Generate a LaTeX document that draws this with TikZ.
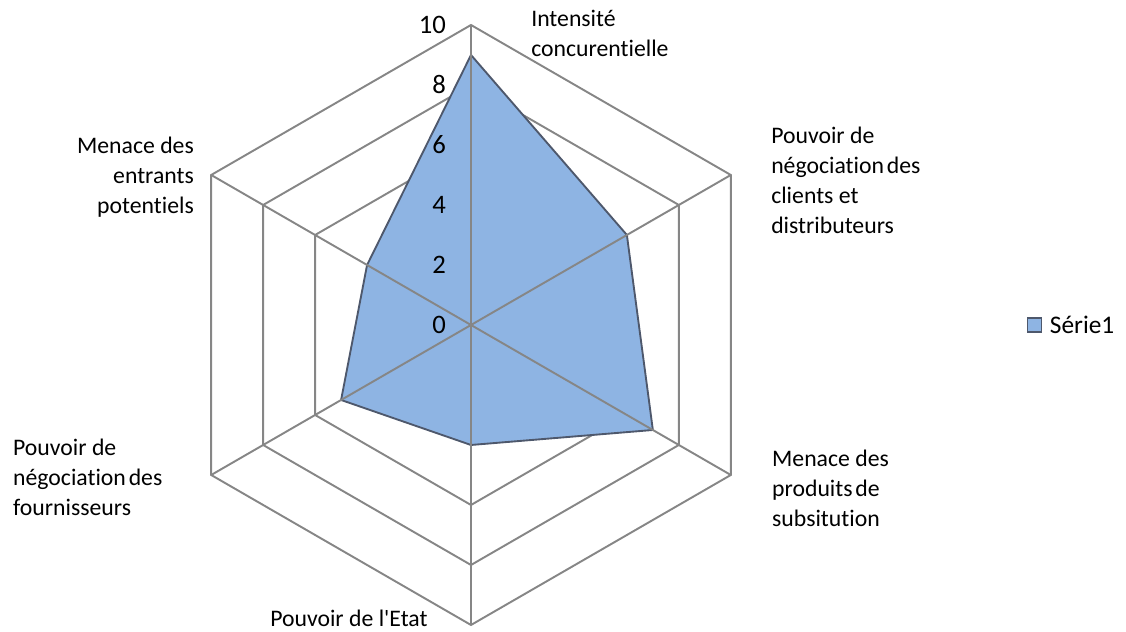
\documentclass[tikz,border=0pt]{standalone}
\usepackage{fontspec}
\setmainfont{Carlito}[Ligatures={NoCommon,TeXOff}]
\usepackage{tikz}
\usetikzlibrary{positioning}
\definecolor{serieblue}{RGB}{142, 180, 227}
\definecolor{serieedge}{RGB}{78, 88, 108}
\definecolor{gridgray}{RGB}{134, 134, 134}

\begin{document}
\begin{tikzpicture}[x=22.5pt, y=22.5pt,
  gridline/.style={draw=gridgray, line width=1.45pt},
  serie/.style={fill=serieblue, draw=serieedge, line width=1.4pt, line join=miter},
  tick/.style={font=\fontsize{20pt}{24pt}\selectfont, anchor=east, inner sep=0pt},
  lbl/.style={font=\fontsize{17.8pt}{22.5pt}\selectfont, inner sep=0pt},
  legkey/.style={rectangle, fill=serieblue, draw=serieedge, line width=0.9pt,
    minimum size=10.5pt, inner sep=0pt}
]
\useasboundingbox (-15.7,-10.233) rectangle (21.833,10.833);
% rings behind the series
\draw[gridline] (90:2)  -- (30:2)  -- (-30:2)  -- (-90:2)  -- (210:2)  -- (150:2)  -- cycle;
\draw[gridline] (90:4)  -- (30:4)  -- (-30:4)  -- (-90:4)  -- (210:4)  -- (150:4)  -- cycle;
\draw[gridline] (90:6)  -- (30:6)  -- (-30:6)  -- (-90:6)  -- (210:6)  -- (150:6)  -- cycle;
\draw[gridline] (90:8)  -- (30:8)  -- (-30:8)  -- (-90:8)  -- (210:8)  -- (150:8)  -- cycle;
\draw[gridline] (90:10) -- (30:10) -- (-30:10) -- (-90:10) -- (210:10) -- (150:10) -- cycle;
% Serie1
\draw[serie] (90:9) -- (30:6) -- (-30:7) -- (-90:4) -- (210:5) -- (150:4) -- cycle;
% spokes over the series
\draw[gridline] (90:10) -- (-90:10) (30:10) -- (210:10) (150:10) -- (-30:10);
% value axis
\node[tick] at (-0.83, 0)  (t0)  {0};
\node[tick] at (-0.83, 2)  (t2)  {2};
\node[tick] at (-0.83, 4)  (t4)  {4};
\node[tick] at (-0.83, 6)  (t6)  {6};
\node[tick] at (-0.83, 8)  (t8)  {8};
\node[tick] at (-0.83, 10) (t10) {10};
% category labels
\node[lbl, anchor=north west, align=left] at (2.0, 10.5) (rivalry)
  {Intensité\\concurentielle};
\node[lbl, anchor=north west, align=left] at (10.0, 6.6) (clients)
  {Pouvoir de\\négociation\hspace{0.12em}des\\clients et\\distributeurs};
\node[lbl, anchor=north west, align=left] at (10.03, -4.17) (substitutes)
  {Menace des\\produits\hspace{0.12em}de\\subsitution};
\node[lbl, anchor=north west, align=left] at (-6.7, -9.5) (state)
  {Pouvoir de l'Etat};
\node[lbl, anchor=north west, align=left] at (-15.27, -3.8) (suppliers)
  {Pouvoir de\\négociation\hspace{0.12em}des\\fournisseurs};
\node[lbl, anchor=north east, align=right] at (-9.23, 6.27) (entrants)
  {Menace des\\entrants\\potentiels};
% legend
\node[legkey] at (18.77, 0) (key) {};
\node[font=\fontsize{19pt}{23pt}\selectfont, inner sep=0pt, right=6pt of key] (keytxt) {Série1};
\end{tikzpicture}
\end{document}
